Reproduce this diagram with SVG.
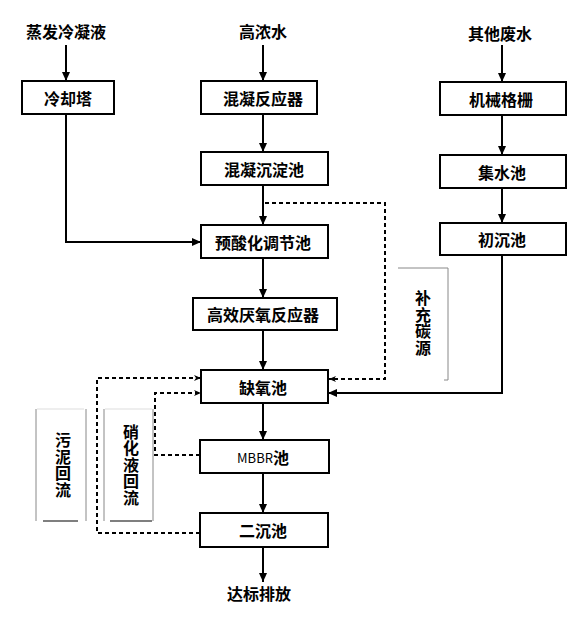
<svg xmlns="http://www.w3.org/2000/svg" width="573" height="617" viewBox="0 0 573 617">
<defs>
<style>
.box{fill:#fff;stroke:#000;stroke-width:2}
.t{font-family:"Noto Sans CJK SC","Noto Sans",sans-serif;font-size:16px;font-weight:bold;fill:#000;text-anchor:middle;dominant-baseline:central}
.v{font-family:"Noto Sans CJK SC","Noto Sans",sans-serif;font-size:16px;font-weight:bold;fill:#000;text-anchor:middle;writing-mode:vertical-rl;letter-spacing:0.5px}
.ln{fill:none;stroke:#000;stroke-width:2}
.ds{fill:none;stroke:#000;stroke-width:2;stroke-dasharray:4 3}
.lb{fill:none;stroke:#888;stroke-width:1}
.lbd{fill:none;stroke:#000;stroke-width:1.2}
</style>
<marker id="ah" markerUnits="userSpaceOnUse" markerWidth="10" markerHeight="10" refX="9" refY="5" orient="auto">
<path d="M0,1 L9,5 L0,9 z" fill="#000"/>
</marker>
<marker id="ahd" markerUnits="userSpaceOnUse" markerWidth="8" markerHeight="8" refX="7" refY="4" orient="auto">
<path d="M0,1 L7,4 L0,7 L2,4 z" fill="#000"/>
</marker>
</defs>
<rect width="573" height="617" fill="#fff"/>

<g id="connectors">
<path class="ln" d="M66,45 V81" marker-end="url(#ah)"/>
<path class="ln" d="M66,114 V242 H201" marker-end="url(#ah)"/>
<path class="ln" d="M263,45 V81" marker-end="url(#ah)"/>
<path class="ln" d="M263,114 V152" marker-end="url(#ah)"/>
<path class="ln" d="M263,185 V225" marker-end="url(#ah)"/>
<path class="ln" d="M263,258 V298" marker-end="url(#ah)"/>
<path class="ln" d="M263,330 V370" marker-end="url(#ah)"/>
<path class="ln" d="M263,403 V440" marker-end="url(#ah)"/>
<path class="ln" d="M263,473 V513" marker-end="url(#ah)"/>
<path class="ln" d="M263,547 V582" marker-end="url(#ah)"/>
<path class="ln" d="M502,45 V82" marker-end="url(#ah)"/>
<path class="ln" d="M502,115 V155" marker-end="url(#ah)"/>
<path class="ln" d="M502,188 V223" marker-end="url(#ah)"/>
<path class="ln" d="M502,255 V393 H328" marker-end="url(#ah)"/>
<path class="ds" d="M265,203 H385 V379 H329" marker-end="url(#ahd)"/>
<path class="ds" d="M200,533 H97 V378 H201" marker-end="url(#ahd)"/>
<path class="ds" d="M200,455 H155 V393 H201" marker-end="url(#ahd)"/>
</g>

<g id="labels">
<text class="t" x="66" y="31">蒸发冷凝液</text>
<text class="t" x="263" y="31">高浓水</text>
<text class="t" x="500" y="33">其他废水</text>
<text class="t" x="259" y="593">达标排放</text>
</g>

<g id="n-cooling"><rect class="box" x="22" y="81" width="92" height="33"/><text class="t" x="68" y="98">冷却塔</text></g>
<g id="n-coag-reactor"><rect class="box" x="201" y="81" width="116" height="33"/><text class="t" x="263" y="98">混凝反应器</text></g>
<g id="n-grille"><rect class="box" x="440" y="82" width="126" height="33"/><text class="t" x="501" y="99">机械格栅</text></g>
<g id="n-coag-settle"><rect class="box" x="201" y="152" width="127" height="33"/><text class="t" x="264" y="169">混凝沉淀池</text></g>
<g id="n-collect"><rect class="box" x="440" y="155" width="126" height="33"/><text class="t" x="502" y="172">集水池</text></g>
<g id="n-preacid"><rect class="box" x="201" y="225" width="127" height="33"/><text class="t" x="263" y="242">预酸化调节池</text></g>
<g id="n-primary"><rect class="box" x="440" y="223" width="126" height="32"/><text class="t" x="502" y="239">初沉池</text></g>
<g id="n-anaerobic"><rect class="box" x="193" y="298" width="144" height="32"/><text class="t" x="263" y="314">高效厌氧反应器</text></g>
<g id="n-anoxic"><rect class="box" x="201" y="370" width="127" height="33"/><text class="t" x="263" y="387">缺氧池</text></g>
<g id="n-mbbr"><rect class="box" x="200" y="440" width="129" height="33"/><text class="t" x="263" y="457"><tspan font-size="13" font-weight="normal">MBBR</tspan>池</text></g>
<g id="n-secondary"><rect class="box" x="200" y="513" width="128" height="34"/><text class="t" x="263" y="530">二沉池</text></g>

<g id="n-carbon-label">
<path class="lb" d="M398,268 H448 V380 H444"/>
<text class="v" x="423" y="323">补充碳源</text>
</g>
<g id="n-sludge-label">
<path class="lb" d="M36,409 V521 M86,409 V521"/>
<path stroke="#ddd" stroke-width="1" d="M37,409 H84"/>
<path class="lbd" d="M43,521 H78"/>
<text class="v" x="63" y="465">污泥回流</text>
</g>
<g id="n-nitrate-label">
<path class="lb" d="M104,409 V521 M153,409 V521"/>
<path stroke="#ddd" stroke-width="1" d="M105,409 H152"/>
<path class="lbd" d="M110,521 H152"/>
<text class="v" x="131" y="465">硝化液回流</text>
</g>
</svg>
